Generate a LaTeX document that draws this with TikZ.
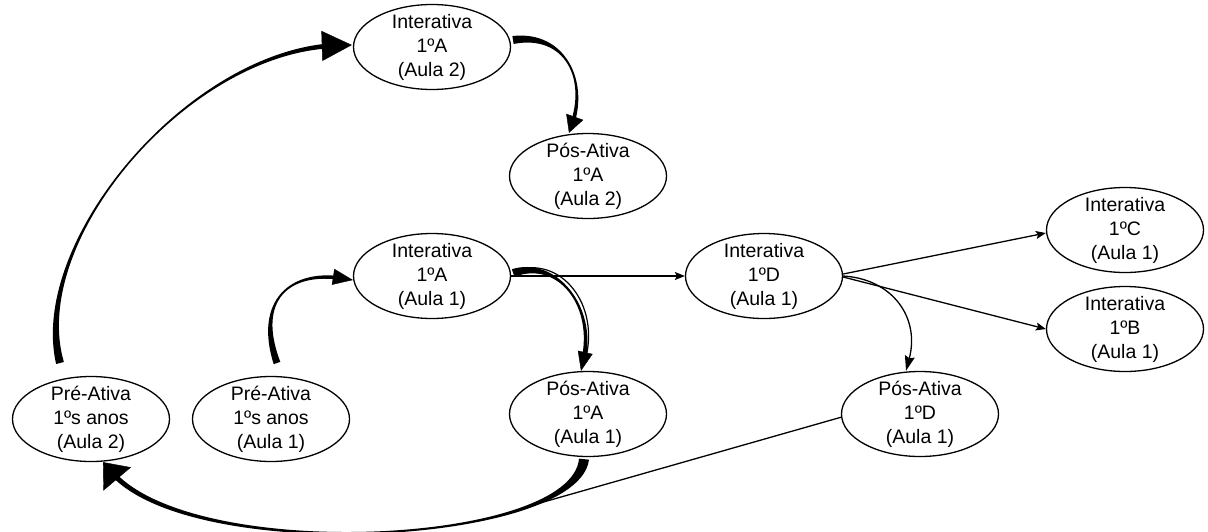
\documentclass[tikz,border=0pt]{standalone}
\usepackage{fontspec}
\setmainfont{Liberation Sans}
\usetikzlibrary{arrows.meta,calc,shapes.geometric}

% tapered band along a cubic curve: P0 P1 P2 P3, half widths d0 d1 d2 d3 (pt), end shortening (pt)
\newcommand{\taperedge}[9]{%
  \coordinate (tE) at ($(#4)!#9pt!(#3)$);
  \fill ($(#1)!#5pt!90:(#2)$) .. controls ($(#2)!#6pt!-90:(#1)$) and ($(#3)!#7pt!90:(tE)$) .. ($(tE)!#8pt!-90:(#3)$)
   -- ($(tE)!#8pt!90:(#3)$) .. controls ($(#3)!#7pt!-90:(tE)$) and ($(#2)!#6pt!90:(#1)$) .. ($(#1)!#5pt!-90:(#2)$) -- cycle;}

\begin{document}
\begin{tikzpicture}[x=1pt,y=-1pt,
  st/.style={ellipse, draw, line width=1.3pt, minimum width=157pt, minimum height=85pt,
    inner xsep=0pt, inner ysep=-6pt, align=center, font=\fontsize{19.5}{24}\selectfont},
  thinedge/.style={line width=1.3pt, -{Stealth[length=10pt,width=8pt,inset=2pt]}},
  headonly/.style={line width=0.4pt}
]
\useasboundingbox (0,0) rectangle (1208,531);

\node[st] (IA2) at (432,47)  {Interativa\\1ºA\\(Aula 2)};
\node[st] (PA2) at (588,176) {Pós-Ativa\\1ºA\\(Aula 2)};
\node[st] (IA1) at (432,276) {Interativa\\1ºA\\(Aula 1)};
\node[st] (ID)  at (764,276) {Interativa\\1ºD\\(Aula 1)};
\node[st] (IC)  at (1125,230) {Interativa\\1ºC\\(Aula 1)};
\node[st] (IB)  at (1125,329) {Interativa\\1ºB\\(Aula 1)};
\node[st] (PR2) at (91,419)  {Pré-Ativa\\1ºs anos\\(Aula 2)};
\node[st] (PR1) at (271,419) {Pré-Ativa\\1ºs anos\\(Aula 1)};
\node[st] (PA1) at (588,414) {Pós-Ativa\\1ºA\\(Aula 1)};
\node[st] (PD)  at (920,414) {Pós-Ativa\\1ºD\\(Aula 1)};

% E1: PR2 -> IA2
\coordinate (e1s) at ($(PR2.center)+(-31,-56)$);
\coordinate (e1a) at (28,240);
\coordinate (e1b) at (190,50);
\coordinate (e1e) at ($(IA2.west)+(-1,-2)$);
\taperedge{e1s}{e1a}{e1b}{e1e}{4}{0.4}{0.9}{2.5}{15}
\draw[headonly,-{Triangle[length=30pt,width=30pt]}] ($(e1e)!1pt!(e1b)$) -- (e1e);

% E2: IA2 -> PA2
\coordinate (e2s) at ($(IA2.center)+(81,-7)$);
\coordinate (e2a) at (565,32);
\coordinate (e2b) at (588,80);
\coordinate (e2e) at ($(PA2.north)+(-19,0)$);
\taperedge{e2s}{e2a}{e2b}{e2e}{4}{2}{1.5}{2}{8}
\draw[headonly,-{Triangle[length=17pt,width=18pt]}] ($(e2e)!1pt!(e2b)$) -- (e2e);

% E3: PR1 -> IA1
\coordinate (e3s) at ($(PR1.center)+(6,-56)$);
\coordinate (e3a) at (255,300);
\coordinate (e3b) at (290,270);
\coordinate (e3e) at ($(IA1.west)+(0,4)$);
\taperedge{e3s}{e3a}{e3b}{e3e}{3.5}{1.5}{1.8}{1.8}{10}
\draw[headonly,-{Triangle[length=20pt,width=16pt]}] ($(e3e)!1pt!(e3b)$) -- (e3e);

% E4: IA1 -> PA1 (double)
\coordinate (e4s) at ($(IA1.east)+(2,-3)$);
\coordinate (e4a) at (556,258);
\coordinate (e4b) at (596,305);
\coordinate (e4e) at ($(PA1.north)+(-7,0)$);
\taperedge{e4s}{e4a}{e4b}{e4e}{4}{2.5}{2}{2}{10}
\draw[headonly,-{Triangle[length=19pt,width=15pt]}] ($(e4e)!1pt!(e4b)$) -- (e4e);
\draw[line width=1.2pt] ($(IA1.east)+(2,-5)$) .. controls (561,254) and (601,305) .. ($(PA1.north)+(-3,-10)$);

% E5: PA1 -> PR2
\coordinate (e5s) at ($(PA1.south)+(-4,2)$);
\coordinate (e5a) at (575,545);
\coordinate (e5b) at (190,565);
\coordinate (e5e) at ($(PR2.south)+(12,0)$);
\taperedge{e5s}{e5a}{e5b}{e5e}{5}{3.5}{2.5}{2.5}{12}
\draw[headonly,-{Triangle[length=22pt,width=36pt]}] ($(e5e)!1pt!(e5b)$) -- (e5e);

% E6: PD -> joins E5
\coordinate (m) at (540,503);
\draw[line width=1.3pt] ($(PD.west)+(1,3)$) -- (m);

% thin edges
\draw[thinedge] (IA1.east) -- (ID.west);
\draw[thinedge] ($(ID.east)+(0,-2)$) -- ($(IC.west)+(0,3)$);
\draw[thinedge] ($(ID.east)+(0,1)$) -- (IB.west);
\draw[line width=1.3pt,-{Stealth[length=15pt,width=10pt,inset=2pt]}] (ID.east) .. controls (893,279) and (920,318) .. ($(PD.north)+(-14,0)$);
\end{tikzpicture}
\end{document}
